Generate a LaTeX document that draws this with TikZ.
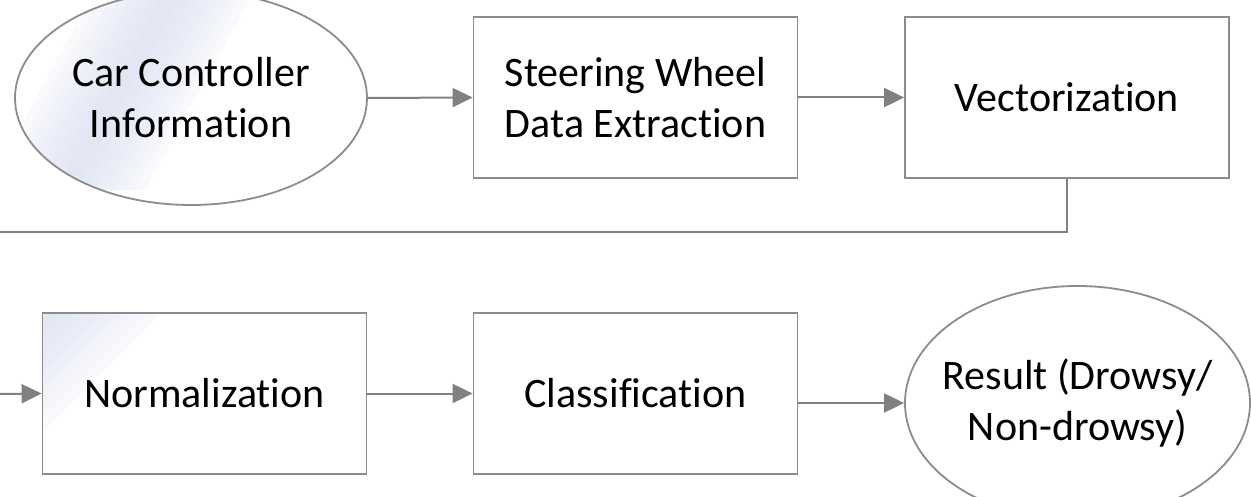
\documentclass[tikz,border=0pt]{standalone}
\usepackage{fontspec}
\setmainfont{Carlito}[Ligatures=NoCommon]
\usetikzlibrary{arrows.meta,shapes.geometric}
\definecolor{edgegray}{HTML}{8C8C8C}
\definecolor{flowgray}{HTML}{808080}
\definecolor{tintblue}{HTML}{D8DEF2}

\begin{document}
\begin{tikzpicture}[x=1pt,y=-1pt,
    stagebox/.style={draw=edgegray,line width=1.8pt,
      minimum width=324pt,minimum height=161pt,inner sep=0pt,
      align=center,font=\fontsize{42}{51}\selectfont},
    stageoval/.style={stagebox,ellipse,inner sep=-30pt},
    flow/.style={draw=flowgray,line width=2pt,
      -{Triangle[length=20pt,width=19pt]}},
    wrap/.style={draw=flowgray,line width=2pt},
    tint/.style={fill=tintblue,opacity=.12}]
  \clip (0,0) rectangle (1251,497);
  \fill[white] (0,0) rectangle (1251,497);

  % light tint streaks
  \begin{scope}
    \clip (191,98) ellipse (176 and 107);
    \foreach \w in {10,20,...,80}
      \fill[tint] (175-\w,-10) -- (175+\w,-10) -- (65+\w,190) -- (65-\w,190) -- cycle;
  \end{scope}
  \begin{scope}
    \clip (42,313) rectangle (367,474);
    \foreach \w in {15,30,...,120}
      \fill[tint] (42,313) -- (42+\w,313) -- (42,313+\w) -- cycle;
  \end{scope}

  % top row
  \node[stageoval,minimum width=352pt,minimum height=214pt]
        (info) at (191,98) {Car Controller\\Information};
  \node[stagebox] (steer) at (635.5,97.5) {Steering Wheel\\Data Extraction};
  \node[stagebox] (vect) at (1067,97.5) {Vectorization};

  % bottom row
  \node[stagebox] (norm) at (204.5,393.5) {Normalization};
  \node[stagebox] (class) at (635.5,393.5) {Classification};
  \node[stageoval,minimum width=345pt,minimum height=234pt]
        (result) at (1077.5,403) {Result (Drowsy/\\Non-drowsy)};

  % connectors
  \coordinate (wrapR) at (0,232);
  \coordinate (wrapL) at (0,394);
  \draw[flow] (info.east) -- (steer.west);
  \draw[flow] (steer) -- (vect);
  \draw[wrap] (vect.south) |- (wrapR);
  \draw[flow] (wrapL) -- (norm.west);
  \draw[flow] (norm) -- (class);
  \draw[flow] (result.west -| class.east) -- (result.west);
\end{tikzpicture}
\end{document}
